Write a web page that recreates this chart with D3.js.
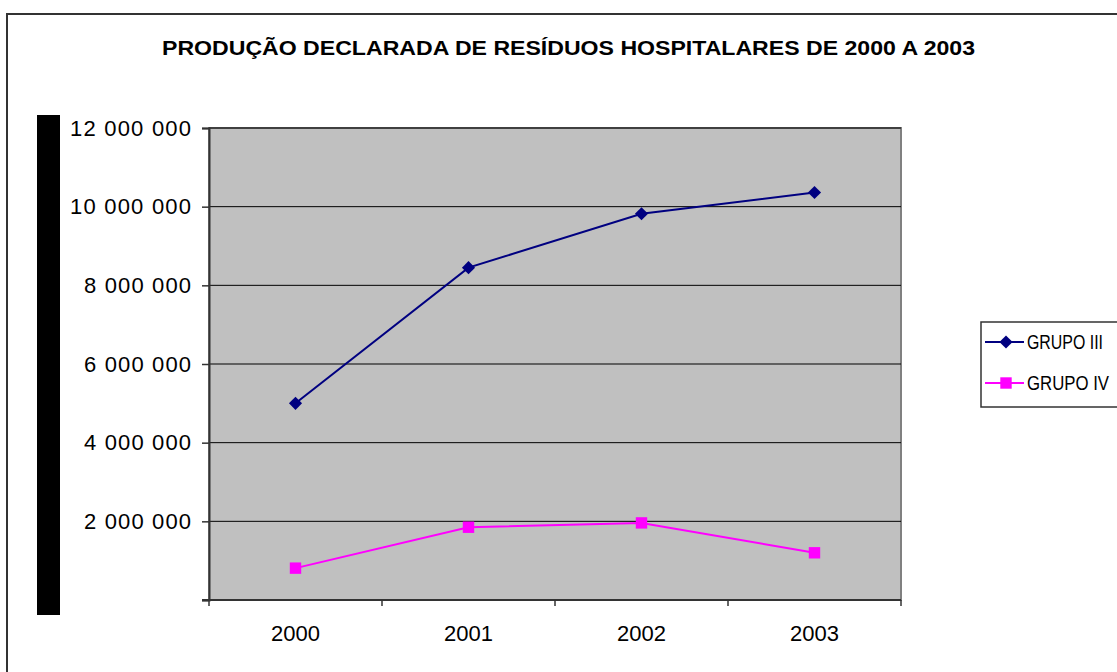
<!DOCTYPE html>
<html>
<head>
<meta charset="utf-8">
<script src="https://cdn.jsdelivr.net/npm/d3@7"></script>
<style>
  body { margin: 0; background: #fff; }
  svg { display: block; font-family: "Liberation Sans", Arial, sans-serif; }
</style>
</head>
<body>
<div id="chart"></div>
<script>
// data
const years = ["2000", "2001", "2002", "2003"];
const grupo3 = [5000000, 8450000, 9820000, 10360000];
const grupo4 = [810000, 1850000, 1960000, 1200000];
const yTicks = [0, 2000000, 4000000, 6000000, 8000000, 10000000, 12000000];
const seriesNames = ["GRUPO III", "GRUPO IV"];

const W = 1117, H = 672;
const plot = {left: 209, top: 128, right: 901, bottom: 600};

const svg = d3.select("#chart").append("svg")
  .attr("width", W).attr("height", H);

// outer frame
svg.append("rect")
  .attr("x", 7).attr("y", 14).attr("width", W + 10).attr("height", H + 10)
  .attr("fill", "#fff").attr("stroke", "#333").attr("stroke-width", 2);

// title
svg.append("text")
  .attr("x", 162).attr("y", 55)
  .attr("textLength", 813).attr("lengthAdjust", "spacingAndGlyphs")
  .style("font-weight", "bold").style("font-size", "21px")
  .text("PRODUÇÃO DECLARADA DE RESÍDUOS HOSPITALARES DE 2000 A 2003");

// black bar on the left
svg.append("rect")
  .attr("x", 37).attr("y", 115).attr("width", 23).attr("height", 500)
  .attr("fill", "#000");

// scales
const x = d3.scaleBand().domain(years).range([plot.left, plot.right]);
const y = d3.scaleLinear().domain([0, 12000000]).range([plot.bottom, plot.top]);

// plot background
svg.append("rect")
  .attr("x", plot.left).attr("y", plot.top)
  .attr("width", plot.right - plot.left).attr("height", plot.bottom - plot.top)
  .attr("fill", "#c0c0c0").attr("stroke", "#808080").attr("stroke-width", 2);

// gridlines
svg.append("g").selectAll("line")
  .data(yTicks.filter(d => d > 0))
  .join("line")
  .attr("x1", plot.left).attr("x2", plot.right)
  .attr("y1", d => y(d)).attr("y2", d => y(d))
  .attr("stroke", "#000").attr("stroke-width", 1);

const fmt = v => d3.format(",")(v).replace(/,/g, " ");

// Y axis
const yAxis = svg.append("g")
  .attr("transform", `translate(${plot.left},0)`)
  .call(d3.axisLeft(y).tickValues(yTicks).tickSize(7).tickPadding(11)
    .tickFormat(d => d === 0 ? "" : fmt(d)));
yAxis.select(".domain").attr("stroke", "#333").attr("stroke-width", 2);
yAxis.selectAll(".tick line").attr("stroke", "#333").attr("stroke-width", 1.5);
yAxis.selectAll(".tick text").style("font-size", "22px").attr("fill", "#000")
  .attr("textLength", d => d >= 10000000 ? 121 : (d > 0 ? 107 : null))
  .attr("lengthAdjust", "spacing");

// X axis
const xAxis = svg.append("g")
  .attr("transform", `translate(0,${plot.bottom})`)
  .call(d3.axisBottom(x).tickSize(0).tickPadding(25));
xAxis.select(".domain").attr("stroke", "#333").attr("stroke-width", 2)
  .attr("d", `M${plot.left - 7},0H${plot.right}`);
xAxis.selectAll(".tick text").style("font-size", "22px").attr("fill", "#000");
svg.append("g").selectAll("line")
  .data(years.concat(["end"]))
  .join("line")
  .attr("x1", (d, i) => i < years.length ? x(d) : plot.right)
  .attr("x2", (d, i) => i < years.length ? x(d) : plot.right)
  .attr("y1", plot.bottom).attr("y2", plot.bottom + 6)
  .attr("stroke", "#333").attr("stroke-width", 1.5);

const cx = d => x(d) + x.bandwidth() / 2;
const line = d3.line().x(d => cx(d[0])).y(d => y(d[1]));

const diamond = d3.symbol().type(d3.symbolDiamond2).size(110);
const square = d3.symbol().type(d3.symbolSquare).size(130);

function drawSeries(values, color, sym) {
  const pts = years.map((yr, i) => [yr, values[i]]);
  svg.append("path").datum(pts)
    .attr("d", line).attr("fill", "none")
    .attr("stroke", color).attr("stroke-width", 2);
  svg.append("g").selectAll("path")
    .data(pts)
    .join("path")
    .attr("transform", d => `translate(${cx(d[0])},${y(d[1])})`)
    .attr("d", sym).attr("fill", color);
}
drawSeries(grupo3, "#000080", diamond);
drawSeries(grupo4, "#ff00ff", square);

// legend
const lg = svg.append("g");
lg.append("rect")
  .attr("x", 981).attr("y", 322).attr("width", 150).attr("height", 85)
  .attr("fill", "#fff").attr("stroke", "#333").attr("stroke-width", 1.5);
const colors = ["#000080", "#ff00ff"];
const syms = [diamond, square];
const textLens = [76, 82];
seriesNames.forEach((name, i) => {
  const ly = 342 + i * 41;
  lg.append("line").attr("x1", 985).attr("x2", 1024)
    .attr("y1", ly).attr("y2", ly)
    .attr("stroke", colors[i]).attr("stroke-width", 2);
  lg.append("path").attr("transform", `translate(1006,${ly})`)
    .attr("d", syms[i]).attr("fill", colors[i]);
  lg.append("text").attr("x", 1027).attr("y", ly + 7)
    .attr("textLength", textLens[i]).attr("lengthAdjust", "spacingAndGlyphs")
    .style("font-size", "20px").text(name);
});
</script>
</body>
</html>
